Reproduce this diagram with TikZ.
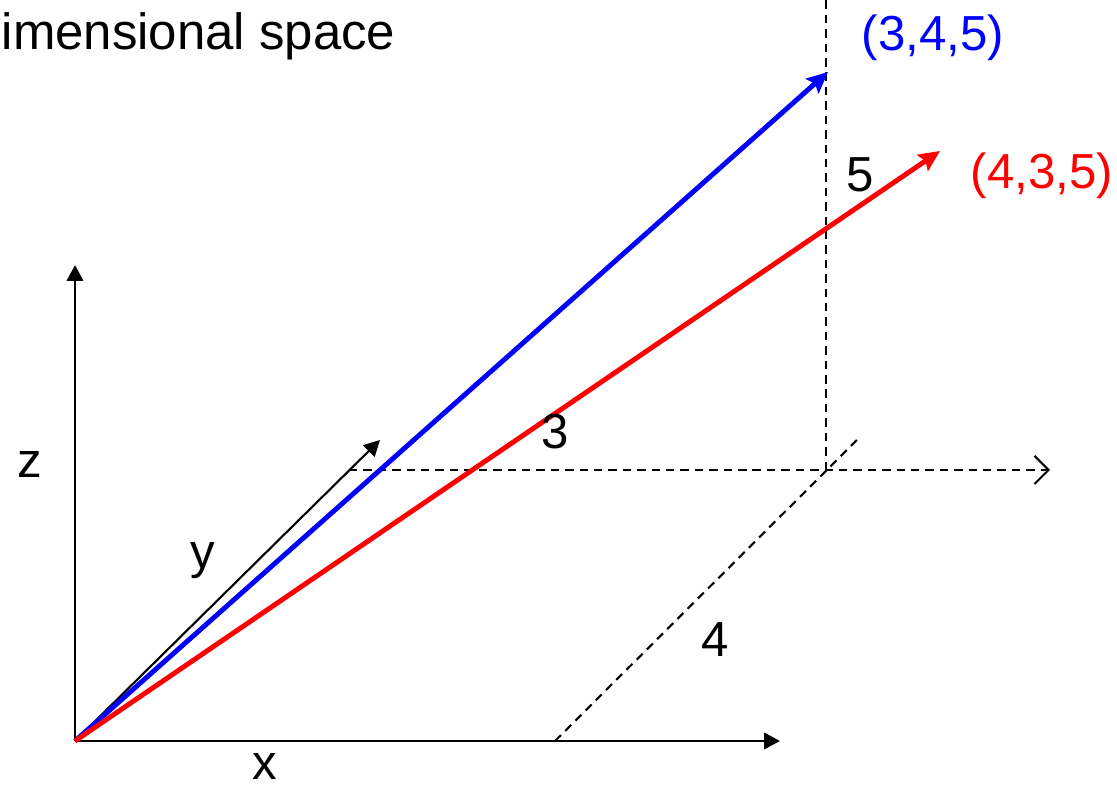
\documentclass[tikz,border=0pt]{standalone}
\usepackage{fontspec}
\setmainfont{Liberation Sans}
\usepackage{tikz}
\usetikzlibrary{arrows.meta,positioning,calc}

\begin{document}
\begin{tikzpicture}[x=1cm,y=1cm,
    lbl/.style={inner sep=0pt,font=\fontsize{14}{16}\selectfont},
    axis/.style={-{Triangle[length=4.5pt,width=4.6pt]}, line width=0.8pt},
    guide/.style={line width=0.6pt, dash pattern=on 2.4pt off 1.7pt},
    vec/.style={-{Stealth[length=6pt,width=5.5pt,inset=1pt]}, line width=1.4pt}]
  \useasboundingbox (0,0) rectangle (11.17,7.86);

  % title, cut by the frame
  \node[lbl, anchor=base west, font=\fontsize{14.5}{17}\selectfont] (title) at (0.01,7.36) {imensional space};

  % axes
  \coordinate (o) at (0.75,0.45);
  \coordinate (ztip) at (0.75,5.21);
  \coordinate (xtip) at (7.80,0.45);
  \coordinate (ytip) at (3.80,3.46);
  \draw[axis] (o) -- (ztip);
  \draw[axis] (o) -- (xtip);
  \draw[line width=0.6pt, -{Triangle[length=4.5pt,width=4.6pt]}] (o) -- (ytip);

  % guide lines
  \coordinate (hs) at (3.49,3.16);
  \coordinate (he) at (10.50,3.16);
  \coordinate (c) at (8.26,3.16);
  \coordinate (ctop) at (8.26,7.86);
  \coordinate (ds) at (5.55,0.45);
  \coordinate (de) at (8.60,3.49);
  \draw[guide, -{Straight Barb[length=4pt,width=8pt]}] (hs) -- (he);
  \draw[guide] (c) -- (ctop);
  \draw[guide] (ds) -- (de);

  % vectors
  \coordinate (bt) at (8.28,7.14);
  \coordinate (rt) at (9.40,6.35);
  \draw[vec, blue] (o) -- (bt);
  \draw[vec, red] (o) -- (rt);

  % labels
  \node[lbl] (zl) at (0.30,3.21) {z};
  \node[lbl] (yl) at (2.03,2.25) {y};
  \node[lbl] (xl) at (2.65,0.19) {x};
  \node[lbl] (l3) at (5.55,3.54) {3};
  \node[lbl] (l4) at (7.15,1.46) {4};
  \node[lbl] (l5) at (8.60,6.11) {5};
  \node[lbl, blue] (bl) at (9.33,7.48) {(3,4,5)};
  \node[lbl, red] (rl) at (10.42,6.10) {(4,3,5)};
\end{tikzpicture}
\end{document}
